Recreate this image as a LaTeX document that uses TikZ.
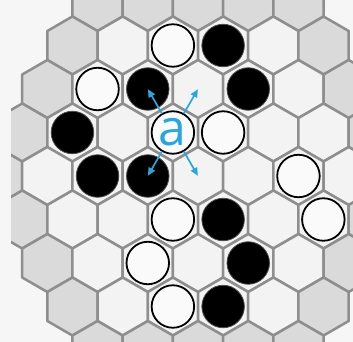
\documentclass[tikz,border=0pt]{standalone}
\usepackage{fontspec}
\setmainfont{Open Sans}
\usetikzlibrary{calc,arrows.meta}
\definecolor{bg}{HTML}{F6F6F6}
\definecolor{cellw}{HTML}{F3F3F3}
\definecolor{cellg}{HTML}{DADADA}
\definecolor{edge}{HTML}{8E8E8E}
\definecolor{abl}{HTML}{2AA6DE}
\begin{document}
\begin{tikzpicture}[x=1pt,y=-1pt,
  hexcell/.style={draw=edge, line width=2.5pt, line join=round},
  wstone/.style={circle, minimum size=42.5pt, inner sep=0pt, fill=white!98!black, draw=black, line width=1.8pt},
  bstone/.style={circle, minimum size=42.5pt, inner sep=0pt, fill=black, draw=black!70, line width=0.8pt},
  arr/.style={draw=abl, line width=1.7pt, shorten <=22pt, -{Triangle[length=8pt,width=7pt]}}]
\fill[bg] (0,0) rectangle (353,342);
\useasboundingbox (0,0) rectangle (353,342);
\begin{scope}
\clip (11,0) rectangle (353,342);
\foreach \r in {0,...,8}{
  \pgfmathtruncatemacro{\n}{9-abs(\r-4)}
  \pgfmathtruncatemacro{\last}{\n-1}
  \foreach \j in {0,...,\last}{
    \pgfmathsetmacro{\cx}{198+50.23*(\j-(\n-1)/2)}
    \pgfmathsetmacro{\cy}{2+43.5*\r}
    \pgfmathtruncatemacro{\ring}{or(or(\r==0,\r==8),or(\j==0,\j==\last))}
    \ifnum\ring=1 \def\cc{cellg}\else\def\cc{cellw}\fi
    \filldraw[hexcell, fill=\cc] (\cx+25.115,\cy-14.5) -- (\cx,\cy-29) -- (\cx-25.115,\cy-14.5)
      -- (\cx-25.115,\cy+14.5) -- (\cx,\cy+29) -- (\cx+25.115,\cy+14.5) -- cycle;
  }
}
\end{scope}
% row 1
\node[wstone] (w11) at (172.885,45.5) {};
\node[bstone] (b11) at (223.115,45.5) {};
% row 2
\node[wstone] (w21) at (97.54,89) {};
\node[bstone] (b21) at (147.77,89) {};
\node[bstone] (b22) at (248.23,89) {};
% row 3
\node[bstone] (b31) at (72.425,132.5) {};
\node[wstone, text=abl, font=\fontsize{50}{50}\selectfont] (a) at (172.885,132.5) {a};
\node[wstone] (w31) at (223.115,132.5) {};
% row 4
\node[bstone] (b41) at (97.54,176) {};
\node[bstone] (b42) at (147.77,176) {};
\node[wstone] (w41) at (298.46,176) {};
% row 5
\node[wstone] (w51) at (172.885,219.5) {};
\node[bstone] (b51) at (223.115,219.5) {};
\node[wstone] (w52) at (323.345,219.5) {};
% row 6
\node[wstone] (w61) at (147.77,263) {};
\node[bstone] (b61) at (248.23,263) {};
% row 7
\node[wstone] (w71) at (172.885,306.5) {};
\node[bstone] (b71) at (223.115,306.5) {};
% arrows
\coordinate (tnw) at (147.885,89.2);
\coordinate (tne) at (197.885,89.2);
\coordinate (tsw) at (147.885,175.8);
\coordinate (tse) at (197.885,175.8);
\draw[arr] (a.center) -- (tnw);
\draw[arr] (a.center) -- (tne);
\draw[arr] (a.center) -- (tsw);
\draw[arr] (a.center) -- (tse);
\end{tikzpicture}
\end{document}
